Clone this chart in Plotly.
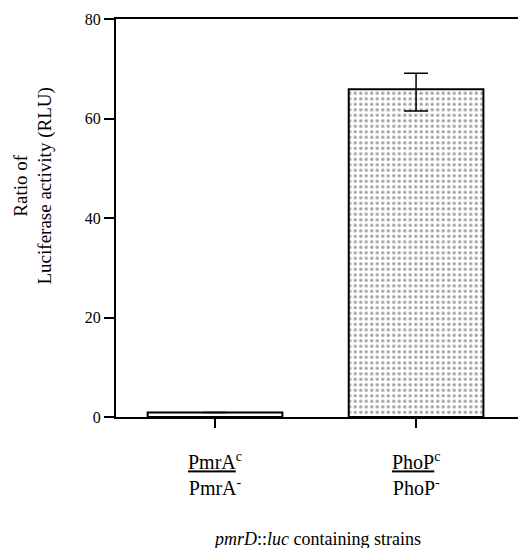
import plotly.graph_objects as go

categories = ["PmrA", "PhoP"]
tick_labels = [
    "<span style='text-decoration:underline'>PmrA</span><sup>c</sup><br>PmrA<sup>-</sup>",
    "<span style='text-decoration:underline'>PhoP</span><sup>c</sup><br>PhoP<sup>-</sup>",
]
values = [0.9, 65.9]
err_plus = [0, 3.2]
err_minus = [0, 4.4]
y_ticks = [0, 20, 40, 60, 80]

FONT = "Liberation Serif, Times New Roman, serif"

fig = go.Figure()
fig.add_trace(go.Bar(
    x=categories, y=values, width=0.67,
    marker=dict(
        color=["white", "white"],
        line=dict(color="black", width=2),
        pattern=dict(shape=["", "."], fgcolor="black", bgcolor="white",
                     size=5.5, solidity=0.3),
    ),
    error_y=dict(type="data", symmetric=False, array=err_plus, arrayminus=err_minus,
                 color="black", thickness=1.5, width=12, visible=True),
    showlegend=False,
))

annotations = [dict(
    text="<i>pmrD</i>::<i>luc</i> containing strains",
    xref="paper", yref="paper", x=0.5, y=0, yshift=-110,
    xanchor="center", yanchor="top", showarrow=False,
    font=dict(size=18, family=FONT),
), dict(
    text="Ratio of<br>Luciferase activity (RLU)",
    xref="paper", yref="paper", x=(32.5 - 116) / 402, y=(417 - 186) / 398,
    xanchor="center", yanchor="middle", textangle=-90, showarrow=False,
    font=dict(size=19, family=FONT),
)]
for cat, lab in zip(categories, tick_labels):
    annotations.append(dict(
        text=lab, xref="x", yref="paper", x=cat, y=0, yshift=-30,
        xanchor="center", yanchor="top", showarrow=False,
        font=dict(size=20, family=FONT),
    ))

fig.update_layout(
    width=518, height=548,
    margin=dict(l=116, r=0, t=19, b=131),
    paper_bgcolor="white", plot_bgcolor="white",
    font=dict(family=FONT, color="black", size=16),
    xaxis=dict(
        range=[-0.4925, 1.507],
        tickmode="array", tickvals=categories, showticklabels=False,
        ticks="outside", ticklen=9, tickwidth=1.5, tickcolor="black",
        showline=True, linecolor="black", linewidth=2, mirror=True,
        showgrid=False, zeroline=False,
    ),
    yaxis=dict(
        range=[0, 80], tickvals=y_ticks,
        ticks="outside", ticklen=10, tickwidth=1.5, tickcolor="black",
        showline=True, linecolor="black", linewidth=2,
        showgrid=False, zeroline=False,
        tickfont=dict(size=16, family=FONT),
    ),
    annotations=annotations,
)

fig.write_html("out.html")
